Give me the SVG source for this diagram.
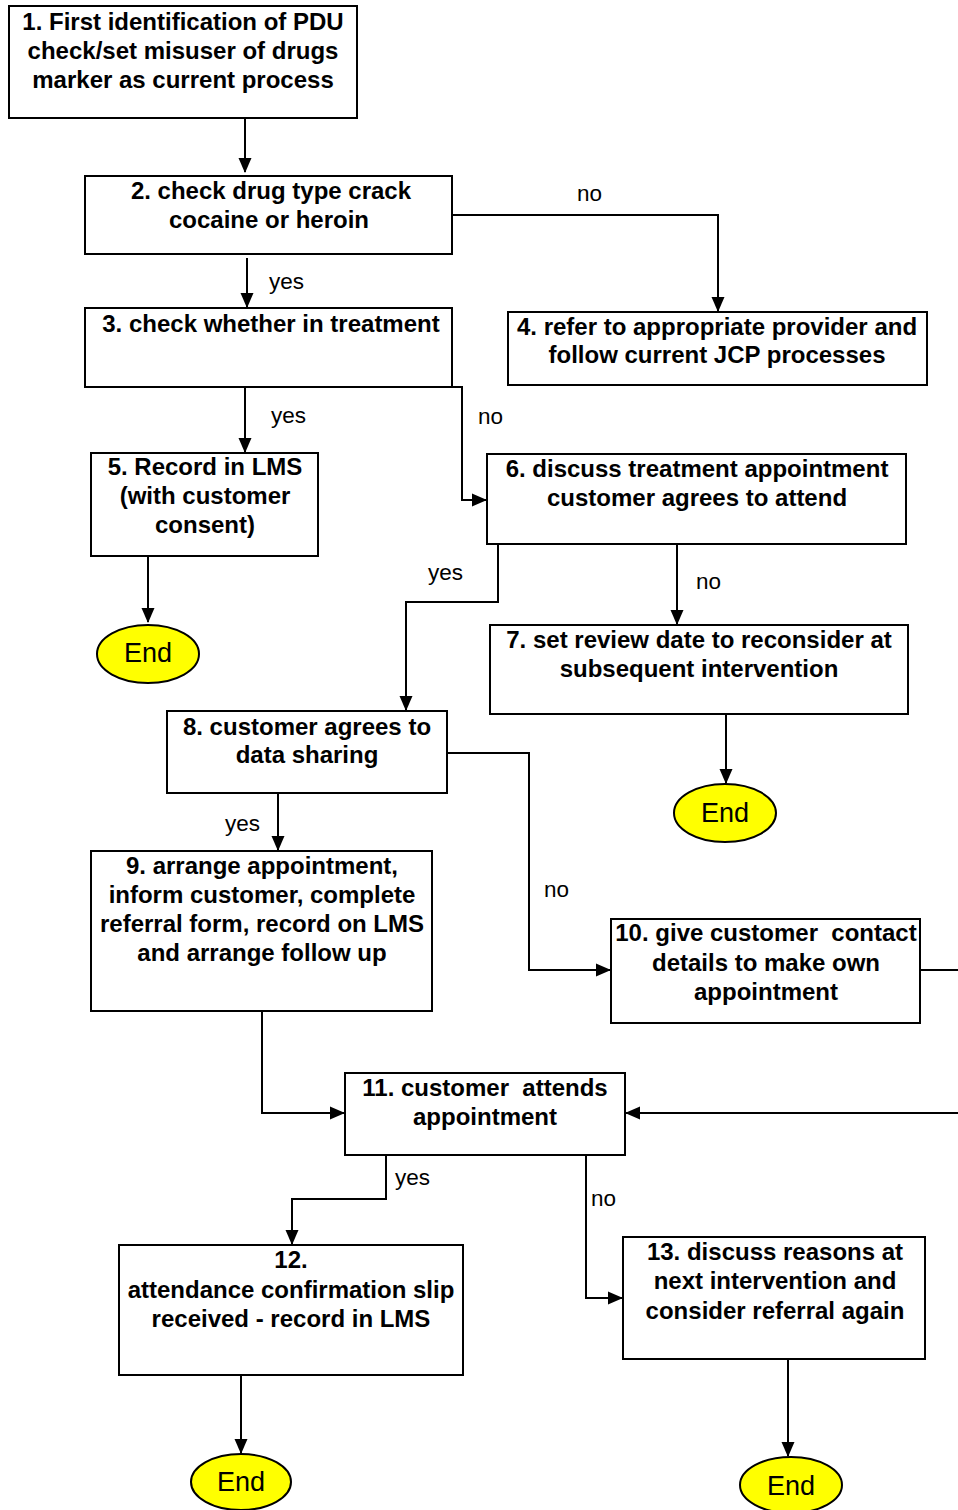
<svg xmlns="http://www.w3.org/2000/svg" width="958" height="1510" viewBox="0 0 958 1510">
<style>
.box{fill:#fff;stroke:#000;stroke-width:2}
.t{font-family:"Liberation Sans",Arial,sans-serif;font-weight:bold;font-size:24px;text-anchor:middle;fill:#000}
.lbl{font-family:"Liberation Sans",Arial,sans-serif;font-size:22.5px;fill:#000}
.end{fill:#ffff00;stroke:#000;stroke-width:2}
.et{font-family:"Liberation Sans",Arial,sans-serif;font-size:27px;text-anchor:middle;fill:#000}
.c{fill:none;stroke:#000;stroke-width:2;marker-end:url(#ah)}
</style>
<defs>
<marker id="ah" markerUnits="userSpaceOnUse" markerWidth="15" markerHeight="15" viewBox="0 0 15 15" refX="14" refY="7.5" orient="auto">
<path d="M0,1 L15,7.5 L0,14 Z" fill="#000"/>
</marker>
</defs>
<rect width="958" height="1510" fill="#fff"/>
<g id="connectors">
<path class="c" d="M245,118 V172"/>
<path class="c" d="M452,215 H718 V311"/>
<path class="c" d="M247,258 V307"/>
<path class="c" d="M452,387 H462 V500 H486"/>
<path class="c" d="M245,387 V452"/>
<path class="c" d="M148,556 V622"/>
<path class="c" d="M498,544 V602 H406 V710"/>
<path class="c" d="M677,544 V624"/>
<path class="c" d="M726,714 V783"/>
<path class="c" d="M278,793 V850"/>
<path class="c" d="M447,753 H529 V970 H610"/>
<path class="c" d="M920,970 H975 V1113 H626"/>
<path class="c" d="M262,1011 V1113 H344"/>
<path class="c" d="M386,1155 V1199 H292 V1244"/>
<path class="c" d="M586,1155 V1298 H622"/>
<path class="c" d="M241,1375 V1453"/>
<path class="c" d="M788,1359 V1456"/>
<text class="lbl" x="577" y="201">no</text>
<text class="lbl" x="269" y="289">yes</text>
<text class="lbl" x="271" y="423">yes</text>
<text class="lbl" x="478" y="424">no</text>
<text class="lbl" x="428" y="580">yes</text>
<text class="lbl" x="696" y="589">no</text>
<text class="lbl" x="225" y="831">yes</text>
<text class="lbl" x="544" y="897">no</text>
<text class="lbl" x="395" y="1185">yes</text>
<text class="lbl" x="591" y="1206">no</text>
</g>
<g id="n1"><rect class="box" x="9" y="6" width="348" height="112"/>
<text class="t" x="183" y="30">1. First identification of PDU</text>
<text class="t" x="183" y="59">check/set misuser of drugs</text>
<text class="t" x="183" y="88">marker as current process</text></g>
<g id="n2"><rect class="box" x="85" y="176" width="367" height="78"/>
<text class="t" x="271" y="199">2. check drug type crack</text>
<text class="t" x="269" y="228">cocaine or heroin</text></g>
<g id="n3"><rect class="box" x="85" y="308" width="367" height="79"/>
<text class="t" x="271" y="332">3. check whether in treatment</text></g>
<g id="n4"><rect class="box" x="508" y="312" width="419" height="73"/>
<text class="t" x="717" y="335">4. refer to appropriate provider and</text>
<text class="t" x="717" y="363">follow current JCP processes</text></g>
<g id="n5"><rect class="box" x="91" y="453" width="227" height="103"/>
<text class="t" x="205" y="475">5. Record in LMS</text>
<text class="t" x="205" y="504">(with customer</text>
<text class="t" x="205" y="533">consent)</text></g>
<g id="end1"><ellipse class="end" cx="148" cy="654" rx="51" ry="29"/>
<text class="et" x="148" y="662">End</text></g>
<g id="n6"><rect class="box" x="487" y="454" width="419" height="90"/>
<text class="t" x="697" y="477">6. discuss treatment appointment</text>
<text class="t" x="697" y="506">customer agrees to attend</text></g>
<g id="n7"><rect class="box" x="490" y="625" width="418" height="89"/>
<text class="t" x="699" y="648">7. set review date to reconsider at</text>
<text class="t" x="699" y="677">subsequent intervention</text></g>
<g id="end2"><ellipse class="end" cx="725" cy="813" rx="51" ry="29"/>
<text class="et" x="725" y="822">End</text></g>
<g id="n8"><rect class="box" x="167" y="711" width="280" height="82"/>
<text class="t" x="307" y="735">8. customer agrees to</text>
<text class="t" x="307" y="763">data sharing</text></g>
<g id="n9"><rect class="box" x="91" y="851" width="341" height="160"/>
<text class="t" x="262" y="874">9. arrange appointment,</text>
<text class="t" x="262" y="903">inform customer, complete</text>
<text class="t" x="262" y="932">referral form, record on LMS</text>
<text class="t" x="262" y="961">and arrange follow up</text></g>
<g id="n10"><rect class="box" x="611" y="919" width="309" height="104"/>
<text class="t" x="766" y="941" xml:space="preserve">10. give customer  contact</text>
<text class="t" x="766" y="971">details to make own</text>
<text class="t" x="766" y="1000">appointment</text></g>
<g id="n11"><rect class="box" x="345" y="1073" width="280" height="82"/>
<text class="t" x="485" y="1096" xml:space="preserve">11. customer  attends</text>
<text class="t" x="485" y="1125">appointment</text></g>
<g id="n12"><rect class="box" x="119" y="1245" width="344" height="130"/>
<text class="t" x="291" y="1268">12.</text>
<text class="t" x="291" y="1298">attendance confirmation slip</text>
<text class="t" x="291" y="1327">received - record in LMS</text></g>
<g id="end3"><ellipse class="end" cx="241" cy="1482" rx="50" ry="28"/>
<text class="et" x="241" y="1491">End</text></g>
<g id="n13"><rect class="box" x="623" y="1237" width="302" height="122"/>
<text class="t" x="775" y="1260">13. discuss reasons at</text>
<text class="t" x="775" y="1289">next intervention and</text>
<text class="t" x="775" y="1319">consider referral again</text></g>
<g id="end4"><ellipse class="end" cx="791" cy="1485" rx="51" ry="28"/>
<text class="et" x="791" y="1495">End</text></g>
</svg>
